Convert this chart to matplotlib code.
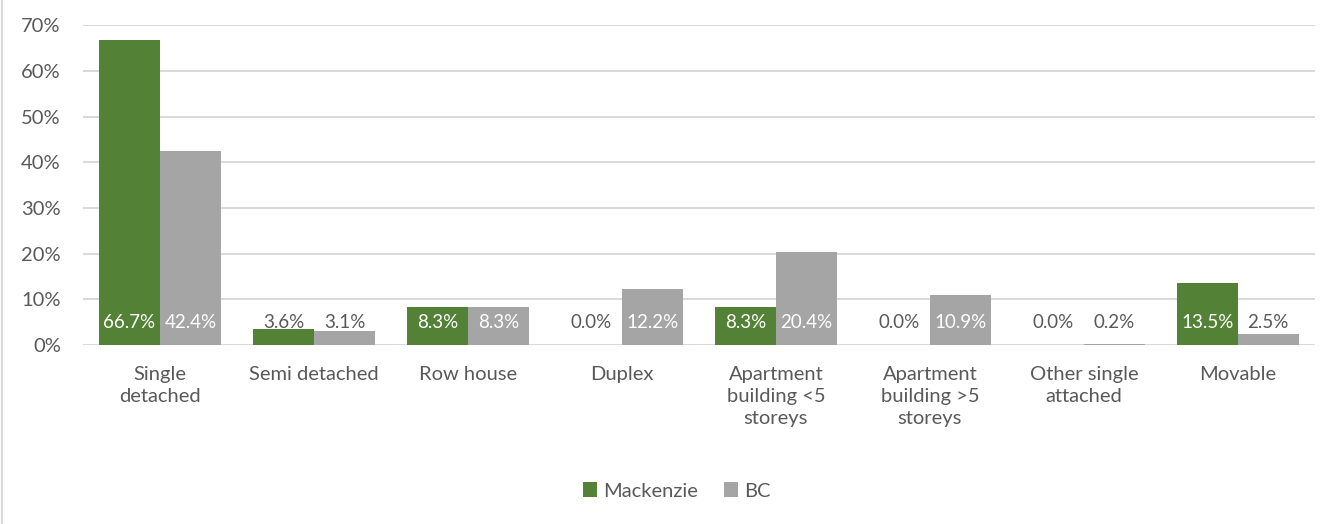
import numpy as np
import matplotlib.pyplot as plt
from matplotlib.lines import Line2D
from matplotlib.ticker import PercentFormatter

# dados
categorias = ["Single\ndetached", "Semi detached", "Row house", "Duplex",
              "Apartment\nbuilding <5\nstoreys", "Apartment\nbuilding >5\nstoreys",
              "Other single\nattached", "Movable"]
mackenzie = [0.667, 0.036, 0.083, 0.000, 0.083, 0.000, 0.000, 0.135]
bc = [0.424, 0.031, 0.083, 0.122, 0.204, 0.109, 0.002, 0.025]

verde = "#538135"
cinza = "#a5a5a5"
texto = "#595959"
fs = 14.5

plt.rcParams['font.family'] = ['Lato', 'DejaVu Sans']

fig = plt.figure(figsize=(13.43, 5.24), dpi=100)
ax = fig.add_axes([0.0618, 0.3416, 0.9172, 0.6104])

x = np.arange(len(categorias))
w = 0.396
b1 = ax.bar(x - w / 2, mackenzie, w, color=verde, label="Mackenzie", zorder=3)
b2 = ax.bar(x + w / 2, bc, w, color=cinza, label="BC", zorder=3)

# rótulos na base das barras
for xs, vals in [(x - w / 2, mackenzie), (x + w / 2, bc)]:
    for xi, v in zip(xs, vals):
        cor = "white" if v >= 0.06 else texto
        ax.text(xi, 0.05, f"{v * 100:.1f}%", ha="center", va="center",
                fontsize=13.5, color=cor, zorder=4)

ax.set_xlim(-0.5, len(categorias) - 0.5)
ax.set_ylim(0, 0.7)
ax.set_yticks(np.arange(0, 0.71, 0.1))
ax.yaxis.set_major_formatter(PercentFormatter(1.0, decimals=0))
ax.set_xticks(x)
ax.set_xticklabels(categorias, linespacing=1.36)
ax.tick_params(axis="both", length=0, labelsize=fs, labelcolor=texto)
ax.tick_params(axis="x", pad=15)
ax.tick_params(axis="y", pad=16)
ax.grid(axis="y", color="#d9d9d9", linewidth=1.4, zorder=0)
for s in ax.spines.values():
    s.set_visible(False)

fig.legend(handles=[b1, b2], loc="center", bbox_to_anchor=(0.504, 0.063),
           ncol=2, frameon=False, fontsize=fs, labelcolor=texto,
           handlelength=0.7, handleheight=0.7, handletextpad=0.3, columnspacing=1.3)

# borda esquerda do quadro
fig.add_artist(Line2D([0.0015, 0.0015], [0, 1], color="#d9d9d9", linewidth=1.5,
                      transform=fig.transFigure))

fig.savefig("out.png", dpi=100)
